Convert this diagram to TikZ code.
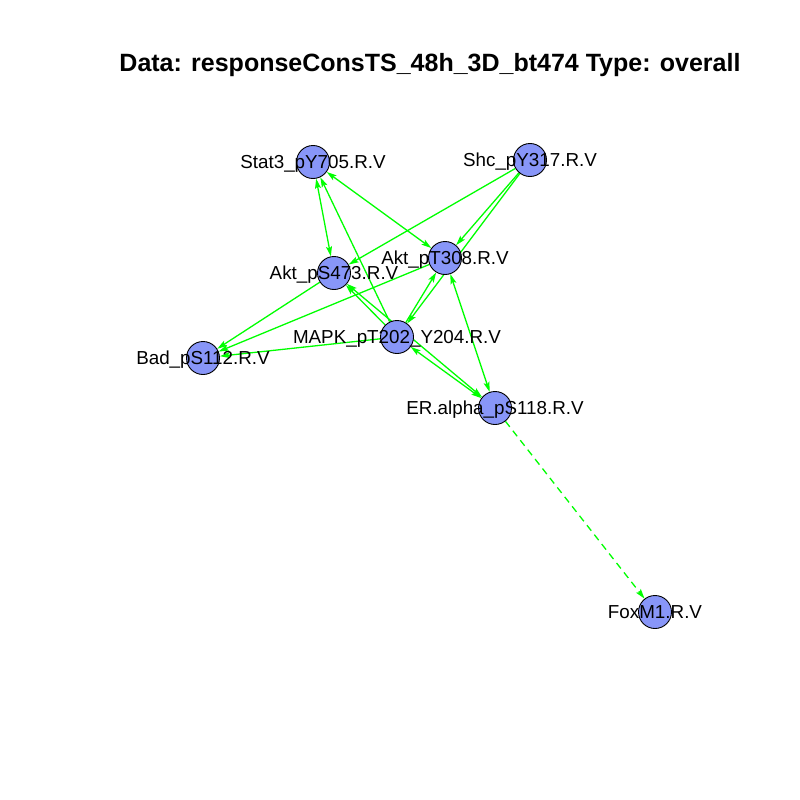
\documentclass[tikz,border=0pt]{standalone}
\usepackage{fontspec}
\setmainfont{Liberation Sans}
\usetikzlibrary{arrows.meta,backgrounds}
\definecolor{vfill}{RGB}{136,150,248}
\definecolor{egreen}{RGB}{0,255,0}
\begin{document}
\begin{tikzpicture}[x=1pt,y=-1pt,
  vert/.style={circle,draw=black,line width=0.9pt,fill=vfill,minimum size=33pt,inner sep=0pt},
  lab/.style={anchor=base,inner sep=0pt,font=\fontsize{18.8}{20}\selectfont},
  ttl/.style={anchor=base,inner sep=0pt,font=\fontsize{25}{28}\selectfont\bfseries},
  tip/.tip={Stealth[length=10pt,width=6pt,inset=2pt]},
  edge/.style={draw=egreen,line width=1.3pt,-tip},
  bi/.style={draw=egreen,line width=1.3pt,tip-tip},
  dedge/.style={edge,dash pattern=on 7pt off 5pt},
]
\useasboundingbox (0,0) rectangle (800,800);
\node[ttl] (title) at (430,71) {Data: responseConsTS\_48h\_3D\_bt474 Type: overall};
\node[vert] (S) at (313,162) {};
\node[vert] (H) at (530,160) {};
\node[vert] (T) at (445,258) {};
\node[vert] (A) at (334,273) {};
\node[vert] (B) at (203,358) {};
\node[vert] (M) at (397,337) {};
\node[vert] (E) at (495,408) {};
\node[vert] (F) at (655,612) {};
\begin{scope}[on background layer]
\fill[white] (0,0) rectangle (800,800);
\draw[bi] (S) -- (A);
\draw[edge] (M) -- (S);
\draw[bi] (S) -- (T);
\draw[edge] (H) -- (A);
\draw[edge] (H) -- (T);
\draw[edge] (H) -- (M);
\draw[edge] (A) -- (B);
\draw[edge] (T) -- (B);
\draw[edge] (M) -- (B);
\draw[edge] (M) -- (A);
\draw[bi] (A) -- (E);
\draw[bi] (M) -- (E);
\draw[edge] (M) -- (T);
\draw[bi] (T) -- (E);
\draw[dedge] (E) -- (F);
\end{scope}
\node[lab] (lS) at ([yshift=-6.5pt]S.center) {Stat3\_pY705.R.V};
\node[lab] (lH) at ([yshift=-6.5pt]H.center) {Shc\_pY317.R.V};
\node[lab] (lT) at ([yshift=-6.5pt]T.center) {Akt\_pT308.R.V};
\node[lab] (lA) at ([yshift=-6.5pt]A.center) {Akt\_pS473.R.V};
\node[lab] (lB) at ([yshift=-6.5pt]B.center) {Bad\_pS112.R.V};
\node[lab] (lM) at ([yshift=-6.5pt]M.center) {MAPK\_pT202\_Y204.R.V};
\node[lab] (lE) at ([yshift=-6.5pt]E.center) {ER.alpha\_pS118.R.V};
\node[lab] (lF) at ([yshift=-6.5pt]F.center) {FoxM1.R.V};
\end{tikzpicture}
\end{document}
